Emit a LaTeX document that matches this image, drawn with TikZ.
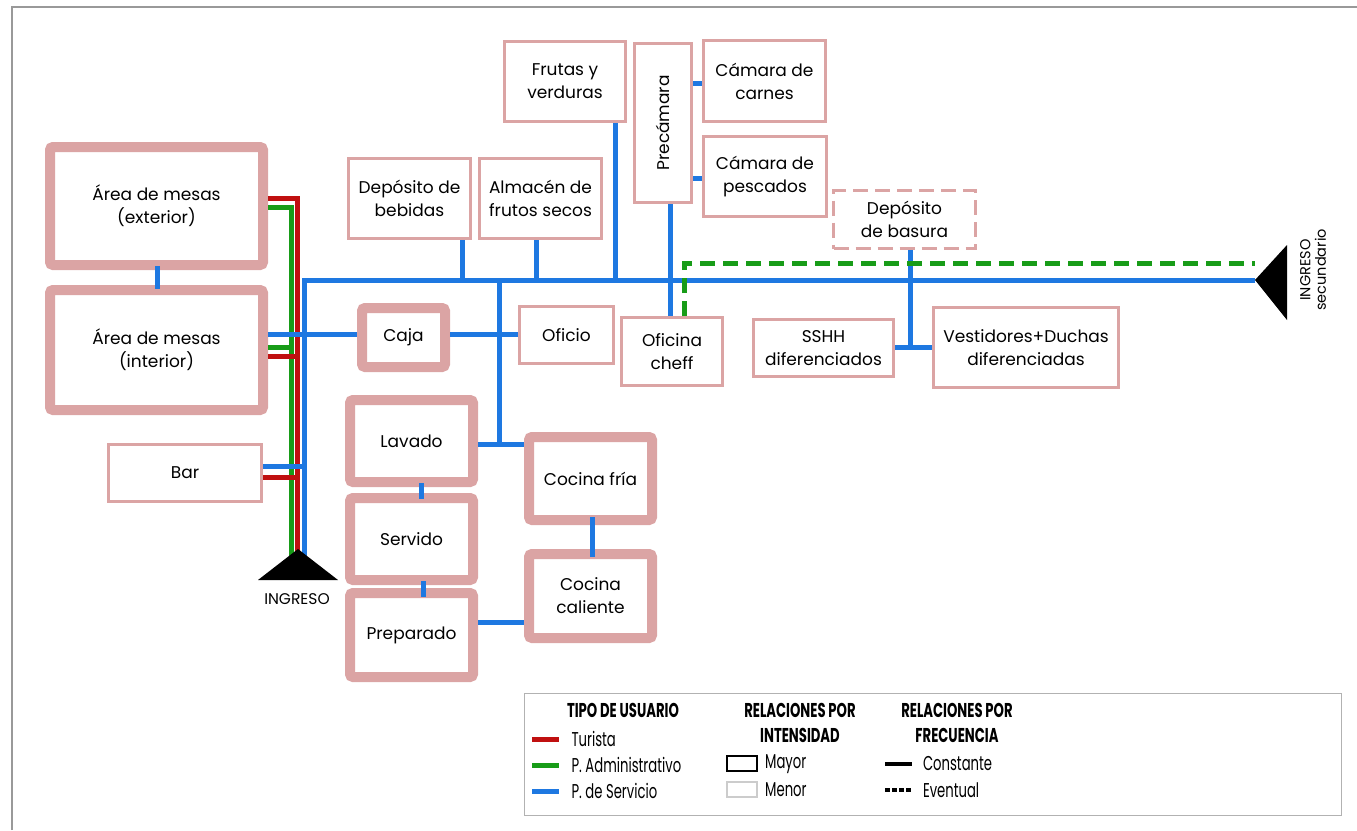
\documentclass[tikz,border=0pt]{standalone}
\usepackage{fontspec}
\setmainfont{Poppins}
\newfontfamily\lgfont[FakeStretch=0.66]{Poppins}
\usetikzlibrary{calc}
\definecolor{pinkc}{RGB}{219,164,164}
\definecolor{redc}{RGB}{192,16,16}
\definecolor{greenc}{RGB}{24,156,24}
\definecolor{bluec}{RGB}{30,120,225}
\newcommand{\fsn}{\fontsize{17}{23}\selectfont}
\newcommand{\fsl}{\lgfont\fontsize{20}{22}\selectfont}
\begin{document}
\begin{tikzpicture}[x=1pt,y=-1pt,
  room/.style={draw=pinkc, line width=3pt, fill=white, align=center, font=\fsn, inner sep=0pt},
  major/.style={room, line width=10pt, rounded corners=3pt},
  minor/.style={room},
  maybe/.style={room, dash pattern=on 15pt off 7pt},
  bl/.style={draw=bluec, line width=5pt},
  rd/.style={draw=redc, line width=5pt},
  gr/.style={draw=greenc, line width=5pt},
  grd/.style={draw=greenc, line width=5pt, dash pattern=on 15pt off 8pt},
  lg/.style={font=\fsl, anchor=west, inner sep=0pt},
  lgt/.style={font=\fsl\bfseries, anchor=center, inner sep=0pt, align=center},
  entry/.style={fill=black}
]
\useasboundingbox (0,0) rectangle (1357,830);
% frame
\draw[gray!80, line width=2.5pt] (12,830) -- (12,7) -- (1357,7);

% rooms
\node[major, minimum width=213pt, minimum height=118pt] (arext) at (156.5,206) {Área de mesas\\(exterior)};
\node[major, minimum width=213pt, minimum height=120pt] (arint) at (156.5,350) {Área de mesas\\(interior)};
\node[minor, minimum width=153pt, minimum height=57pt] (bar) at (185,473) {Bar};
\node[major, minimum width=83pt, minimum height=59pt] (caja) at (403.5,337.5) {Caja};
\node[major, minimum width=123pt, minimum height=82pt] (lavado) at (411.5,441) {Lavado};
\node[major, minimum width=123pt, minimum height=82pt] (servido) at (411.5,539) {Servido};
\node[major, minimum width=123pt, minimum height=84pt] (preparado) at (411.5,635) {Preparado};
\node[major, minimum width=123pt, minimum height=83pt] (cfria) at (590.5,478.5) {Cocina fría};
\node[major, minimum width=123pt, minimum height=84pt] (ccal) at (590.5,596) {Cocina\\caliente};
\node[minor, minimum width=121pt, minimum height=80pt] (frutas) at (565,81.5) {Frutas y\\verduras};
\node[minor, minimum width=57pt, minimum height=159pt] (precam) at (663,123) {};
\node[font=\fsn, rotate=90, inner sep=0pt] (precamt) at (precam.center) {Precámara};
\node[minor, minimum width=122pt, minimum height=81pt] (carnes) at (764.5,81) {Cámara de\\carnes};
\node[minor, minimum width=123pt, minimum height=80pt] (pescados) at (765,176.5) {Cámara de\\pescados};
\node[minor, minimum width=122pt, minimum height=80pt] (bebidas) at (409.5,198.5) {Depósito de\\bebidas};
\node[minor, minimum width=122pt, minimum height=80pt] (almacen) at (540.5,198.5) {Almacén de\\frutos secos};
\node[minor, minimum width=94pt, minimum height=57pt] (oficio) at (566.5,335) {Oficio};
\node[minor, minimum width=101pt, minimum height=68pt] (ofcheff) at (672,351.5) {Oficina\\cheff};
\node[minor, minimum width=140pt, minimum height=57pt] (sshh) at (823.5,348) {SSHH\\diferenciados};
\node[minor, minimum width=185pt, minimum height=80pt] (vest) at (1026,347.5) {Vestidores+Duchas\\diferenciadas};
\node[maybe, minimum width=142pt, minimum height=58pt] (basura) at (904.5,219.5) {Depósito\\de basura};

% entries
\coordinate (apex) at (298,549);
\coordinate (tip) at (1255,280);
\coordinate (busL) at (304,280);
\coordinate (kitch) at (499,444);
\coordinate (dump) at (910,347);
\coordinate (gcorner) at (684,263);

% colored user lines (left)
\draw[rd] (arext.east |- 0,198) -| (297,560);
\draw[gr] (arext.east |- 0,207) -| (291,560);
\draw[bl] (304,560) -- (busL) -- (tip);
\draw[bl] (arint.east |- 0,334) -- (caja.west |- 0,334);
\draw[gr] (arint.east |- 0,347) -- (292,347);
\draw[rd] (arint.east |- 0,356) -- (297,356);
\draw[bl] (bar.east |- 0,466) -- (304,466);
\draw[rd] (bar.east |- 0,477) -- (297,477);
\draw[bl] (157,266) -- (157,289);

% service connections
\draw[bl] (caja.east |- 0,334) -- (oficio.west |- 0,334);
\draw[bl] (busL -| kitch) -- (kitch);
\draw[bl] (lavado.east |- kitch) -- (cfria.west |- kitch);
\draw[bl] (421,483) -- (421,499);
\draw[bl] (423,581) -- (423,597);
\draw[bl] (592,517) -- (592,557);
\draw[bl] (preparado.east |- 0,622) -- (ccal.west |- 0,622);
\draw[bl] (bebidas.south -| 462,0) -- (busL -| 462,0);
\draw[bl] (almacen.south -| 536,0) -- (busL -| 536,0);
\draw[bl] (frutas.south -| 615,0) -- (busL -| 615,0);
\draw[bl] (precam.south -| 670,0) -- (ofcheff.north -| 670,0);
\draw[bl] (precam.east |- 0,83) -- (carnes.west |- 0,83);
\draw[bl] (precam.east |- 0,178) -- (pescados.west |- 0,178);
\draw[bl] (basura.south -| dump) -- (dump);
\draw[bl] (sshh.east |- dump) -- (vest.west |- dump);
\draw[grd] (ofcheff.north -| gcorner) -- (gcorner) -- (gcorner -| tip);

% entry triangles
\fill[entry] (apex) -- (258,580) -- (338,580) -- cycle;
\node[font=\fontsize{15.5}{17}\selectfont, inner sep=0pt] (ingreso) at (297,599) {INGRESO};
\fill[entry] (tip) -- (1287,245) -- (1287,320) -- cycle;
\node[font=\fontsize{14.5}{15.5}\selectfont, rotate=90, align=center, inner sep=0pt] (ingreso2) at (1313,270) {INGRESO\\secundario};

% legend
\node[draw=gray!60, line width=1.2pt, minimum width=817pt, minimum height=122pt, anchor=north west, inner sep=0pt] (legend) at (524,693) {};
\node[lgt] (t1) at (623,710) {TIPO DE USUARIO};
\draw[rd] (532,739) -- (559,739) node[lg, right=10pt] (lt) {Turista};
\draw[gr] (532,765) -- (559,765) node[lg, right=10pt] (la) {P. Administrativo};
\draw[bl] (532,791) -- (559,791) node[lg, right=10pt] (ls) {P. de Servicio};
\node[lgt] (t2) at (800,710) {RELACIONES POR};
\node[lgt] (t2b) at (800,735) {INTENSIDAD};
\draw[black, line width=2pt] (727,756) rectangle (757,771);
\node[lg] (lmay) at (765,764) {Mayor};
\draw[gray!40, line width=1.2pt] (727,782) rectangle (757,797);
\node[lg] (lmen) at (765,790) {Menor};
\node[lgt] (t3) at (957,710) {RELACIONES POR};
\node[lgt] (t3b) at (957,735) {FRECUENCIA};
\draw[black, line width=4pt] (885,764) -- (912,764) node[lg, right=9pt] (lcon) {Constante};
\draw[black, line width=4pt, dash pattern=on 5pt off 2pt] (885,790) -- (912,790) node[lg, right=9pt] (lev) {Eventual};
\end{tikzpicture}
\end{document}
